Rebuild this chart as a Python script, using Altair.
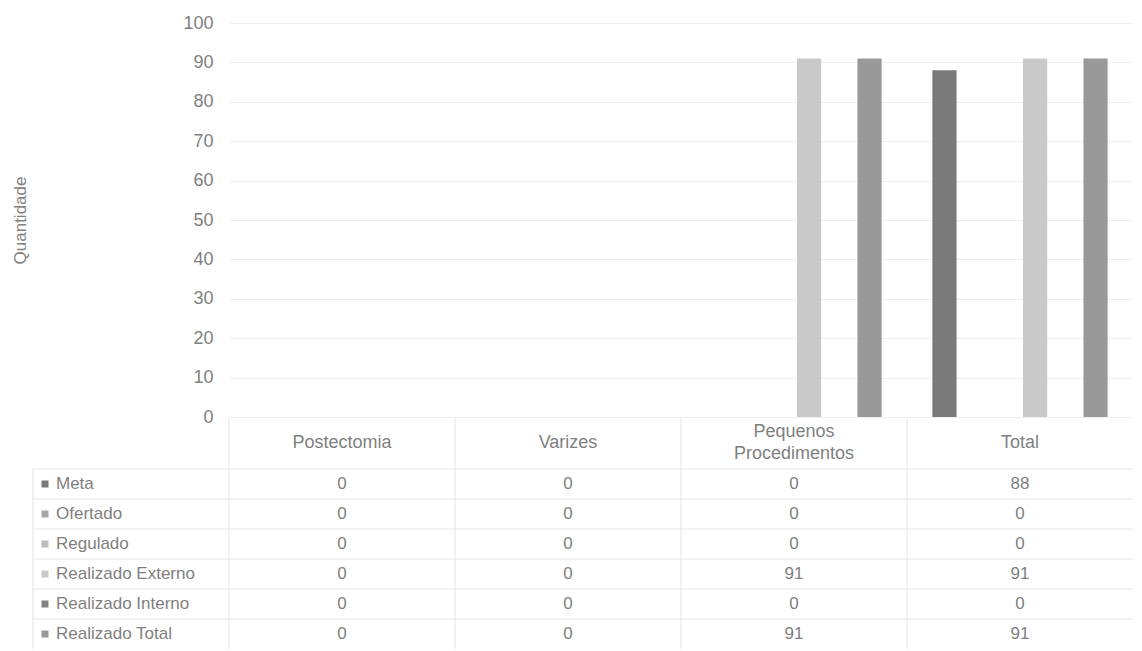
import altair as alt
import pandas as pd

categories = ["Postectomia", "Varizes", "Pequenos Procedimentos", "Total"]
header_labels = ["Postectomia", "Varizes", "Pequenos\nProcedimentos", "Total"]
series = ["Meta", "Ofertado", "Regulado", "Realizado Externo", "Realizado Interno", "Realizado Total"]
meta = [0, 0, 0, 88]
ofertado = [0, 0, 0, 0]
regulado = [0, 0, 0, 0]
realizado_externo = [0, 0, 91, 91]
realizado_interno = [0, 0, 0, 0]
realizado_total = [0, 0, 91, 91]
series_colors = ["#7a7a7a", "#a6a6a6", "#bdbdbd", "#c9c9c9", "#808080", "#999999"]
y_ticks = list(range(0, 101, 10))

values_by_series = [meta, ofertado, regulado, realizado_externo, realizado_interno, realizado_total]
rows = []
for s, vals in zip(series, values_by_series):
    for c, v in zip(categories, vals):
        rows.append({"serie": s, "cat": c, "valor": v})
df = pd.DataFrame(rows)
df_series = pd.DataFrame({"serie": series})
df_head = pd.DataFrame({"cat": categories, "label": header_labels, "h": ["h"] * len(categories)})
df_one = pd.DataFrame({"k": [0]})

W = 904
BAR_H = 394
HEAD_H = 52
ROW_H = 30
H = BAR_H + HEAD_H + ROW_H * len(series)
LEFT_EDGE = -196

FONT = "Liberation Sans"
TXT = "#7f7f7f"
FS = 17

x_scale = alt.Scale(domain=categories, paddingInner=0, paddingOuter=0)
row_scale = alt.Scale(type="band", domain=series, range=[BAR_H + HEAD_H, H], paddingInner=0, paddingOuter=0)
head_scale = alt.Scale(type="band", domain=["h"], range=[BAR_H, BAR_H + HEAD_H], paddingInner=0, paddingOuter=0)
color_scale = alt.Scale(domain=series, range=series_colors)

bars = alt.Chart(df).mark_bar().encode(
    x=alt.X("cat:N", scale=x_scale, axis=None),
    xOffset=alt.XOffset("serie:N", scale=alt.Scale(domain=series, paddingInner=0.2, paddingOuter=0.84)),
    y=alt.Y(
        "valor:Q",
        scale=alt.Scale(domain=[0, 100], range=[BAR_H, 0], nice=False),
        axis=alt.Axis(
            values=y_ticks, title="Quantidade", titleX=-200, titleY=BAR_H / 2, titleAngle=270,
            titleBaseline="bottom", titleAlign="center", titleFont=FONT, titleFontSize=FS,
            titleFontWeight="normal", titleColor=TXT, labelFont=FONT, labelFontSize=18,
            labelColor=TXT, labelPadding=16, ticks=False, domain=False, grid=True,
            gridColor="#efefef", gridWidth=1,
        ),
    ),
    color=alt.Color("serie:N", scale=color_scale, legend=None),
)

hlines = alt.Chart(df_series).mark_rule(color="#e6e6e6", strokeWidth=1).encode(
    y=alt.Y("serie:N", scale=row_scale, bandPosition=0, axis=None),
    x=alt.value(LEFT_EDGE),
    x2=alt.value(W),
)

vlines = alt.Chart(df_head).mark_rule(color="#e6e6e6", strokeWidth=1).encode(
    x=alt.X("cat:N", scale=x_scale, bandPosition=0, axis=None),
    y=alt.value(BAR_H),
    y2=alt.value(H),
)

left_border = alt.Chart(df_one).mark_rule(color="#e6e6e6", strokeWidth=1).encode(
    x=alt.value(LEFT_EDGE),
    y=alt.value(BAR_H + HEAD_H),
    y2=alt.value(H),
)

header_one = alt.Chart(df_head).transform_filter(
    "indexof(datum.label, '\\n') < 0"
).mark_text(
    font=FONT, fontSize=18, color=TXT, baseline="middle", align="center"
).encode(
    x=alt.X("cat:N", scale=x_scale, axis=None),
    y=alt.Y("h:N", scale=head_scale, axis=None),
    text="label:N",
)

header_two = alt.Chart(df_head).transform_filter(
    "indexof(datum.label, '\\n') >= 0"
).mark_text(
    font=FONT, fontSize=18, color=TXT, lineBreak="\n", lineHeight=22, baseline="middle",
    align="center", dy=-11,
).encode(
    x=alt.X("cat:N", scale=x_scale, axis=None),
    y=alt.Y("h:N", scale=head_scale, axis=None),
    text="label:N",
)

cells = alt.Chart(df).mark_text(font=FONT, fontSize=FS, color=TXT, baseline="middle", align="center").encode(
    x=alt.X("cat:N", scale=x_scale, axis=None),
    y=alt.Y("serie:N", scale=row_scale, axis=None),
    text=alt.Text("valor:Q", format="d"),
)

squares = alt.Chart(df_series).mark_square(size=49, opacity=1).encode(
    x=alt.value(-184),
    y=alt.Y("serie:N", scale=row_scale, axis=None),
    color=alt.Color("serie:N", scale=color_scale, legend=None),
)

row_labels = alt.Chart(df_series).mark_text(font=FONT, fontSize=FS, color=TXT, align="left", baseline="middle").encode(
    x=alt.value(-173),
    y=alt.Y("serie:N", scale=row_scale, axis=None),
    text="serie:N",
)

chart = alt.layer(
    hlines, vlines, left_border, bars, header_one, header_two, cells, squares, row_labels
).resolve_scale(y="independent").properties(
    width=W,
    height=H,
    autosize=alt.AutoSizeParams(type="none"),
    padding={"left": 221, "top": 15, "right": 0, "bottom": 2},
    background="white",
).configure_view(stroke=None)

chart.save("out.html", embed_options={"renderer": "svg", "actions": False})
